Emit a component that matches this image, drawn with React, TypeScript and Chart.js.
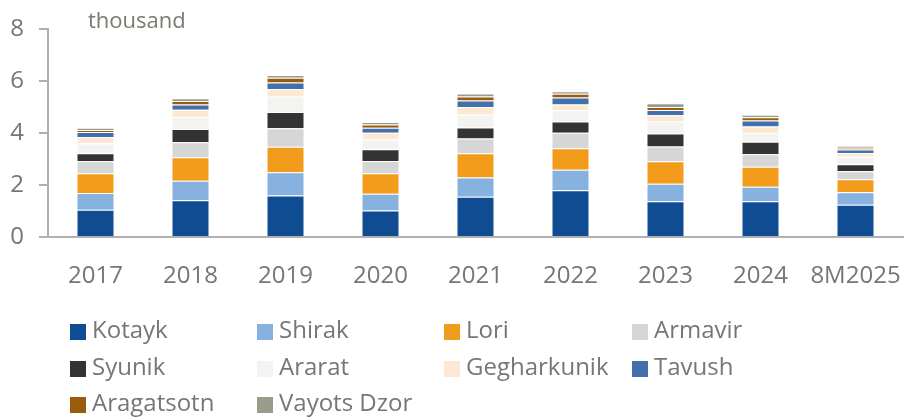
import React, { useEffect, useRef } from "react";
import { Chart, registerables } from "chart.js";

Chart.register(...registerables);

const categories = ["2017", "2018", "2019", "2020", "2021", "2022", "2023", "2024", "8M2025"];
const unitLabel = "thousand";
const yTicks = [0, 2, 4, 6, 8];

const kotayk = [1.05, 1.42, 1.6, 1.02, 1.55, 1.8, 1.38, 1.38, 1.24];
const shirak = [0.65, 0.75, 0.9, 0.65, 0.74, 0.79, 0.67, 0.56, 0.48];
const lori = [0.76, 0.9, 0.98, 0.79, 0.94, 0.83, 0.87, 0.77, 0.51];
const armavir = [0.46, 0.58, 0.71, 0.47, 0.57, 0.6, 0.57, 0.48, 0.3];
const syunik = [0.31, 0.51, 0.63, 0.45, 0.42, 0.43, 0.5, 0.48, 0.27];
const ararat = [0.37, 0.45, 0.58, 0.38, 0.49, 0.43, 0.46, 0.34, 0.29];
const gegharkunik = [0.24, 0.29, 0.3, 0.26, 0.3, 0.23, 0.24, 0.25, 0.15];
const tavush = [0.21, 0.21, 0.25, 0.19, 0.25, 0.27, 0.2, 0.23, 0.13];
const aragatsotn = [0.07, 0.13, 0.19, 0.13, 0.15, 0.14, 0.12, 0.12, 0.07];
const vayotsDzor = [0.09, 0.11, 0.1, 0.09, 0.12, 0.1, 0.14, 0.1, 0.07];

const seriesNames = ["Kotayk", "Shirak", "Lori", "Armavir", "Syunik", "Ararat", "Gegharkunik", "Tavush", "Aragatsotn", "Vayots Dzor"];
const seriesValues = [kotayk, shirak, lori, armavir, syunik, ararat, gegharkunik, tavush, aragatsotn, vayotsDzor];
const seriesColors = ["#0f4c92", "#87b2e0", "#f39c1b", "#d6d6d6", "#333333", "#f3f3f2", "#fde9d3", "#4170aa", "#9a5b0a", "#9b9b8b"];

const FONT = '"Open Sans", "DejaVu Sans", sans-serif';
const TEXT_GRAY = "#767676";
const AXIS_GRAY = "#b0b0b0";

const overlayPlugin = {
  id: "overlay",
  afterDraw(chart: any) {
    const ctx = chart.ctx;
    ctx.save();
    ctx.font = `22px ${FONT}`;
    ctx.fillStyle = "#7a7a70";
    ctx.textAlign = "left";
    ctx.textBaseline = "alphabetic";
    ctx.fillText(unitLabel, 88, 28);

    const colX = [70, 257, 444, 632];
    const rowY = [332, 369, 405];
    ctx.font = `24px ${FONT}`;
    chart.data.datasets.forEach((ds: any, i: number) => {
      const x = colX[i % 4];
      const y = rowY[Math.floor(i / 4)];
      ctx.fillStyle = ds.backgroundColor;
      ctx.fillRect(x, y - 8, 16, 16);
      ctx.fillStyle = TEXT_GRAY;
      ctx.textBaseline = "middle";
      ctx.fillText(ds.label, x + 22, y - 1);
    });
    ctx.restore();
  },
};

export default function App() {
  const ref = useRef<HTMLCanvasElement | null>(null);
  useEffect(() => {
    if (!ref.current) return;
    const chart = new Chart(ref.current, {
      type: "bar",
      data: {
        labels: categories,
        datasets: seriesNames.map((name, i) => ({
          label: name,
          data: seriesValues[i],
          backgroundColor: seriesColors[i],
          borderColor: "rgba(255,255,255,0.35)",
          borderWidth: 1,
          barPercentage: 0.4,
          categoryPercentage: 1,
        })),
      },
      options: {
        responsive: false,
        animation: false,
        layout: { padding: { left: 8, right: 3, top: 29, bottom: 120 } },
        plugins: { legend: { display: false }, tooltip: { enabled: false } },
        scales: {
          x: {
            stacked: true,
            grid: { display: true, drawOnChartArea: false, drawTicks: true, tickLength: 25, color: "rgba(0,0,0,0)" },
            border: { display: true, color: AXIS_GRAY, width: 2 },
            ticks: {
              font: { family: FONT, size: 24 },
              color: TEXT_GRAY,
              padding: 0,
              maxRotation: 0,
              autoSkip: false,
            },
            afterFit: (s: any) => {
              s.height = 60;
            },
          },
          y: {
            stacked: true,
            min: 0,
            max: 8,
            afterBuildTicks: (s: any) => {
              s.ticks = yTicks.map((v) => ({ value: v }));
            },
            grid: { drawOnChartArea: false, drawTicks: true, tickLength: 9, color: AXIS_GRAY, lineWidth: 2 },
            border: { display: true, color: AXIS_GRAY, width: 2 },
            ticks: {
              font: { family: FONT, size: 24 },
              color: TEXT_GRAY,
              padding: 15,
            },
            afterFit: (s: any) => {
              s.width = 40;
            },
          },
        },
      },
      plugins: [overlayPlugin],
    });
    return () => chart.destroy();
  }, []);
  return (
    <canvas
      ref={ref}
      width={906}
      height={417}
      style={{ position: "absolute", left: 0, top: 0, width: 906, height: 417 }}
    />
  );
}
